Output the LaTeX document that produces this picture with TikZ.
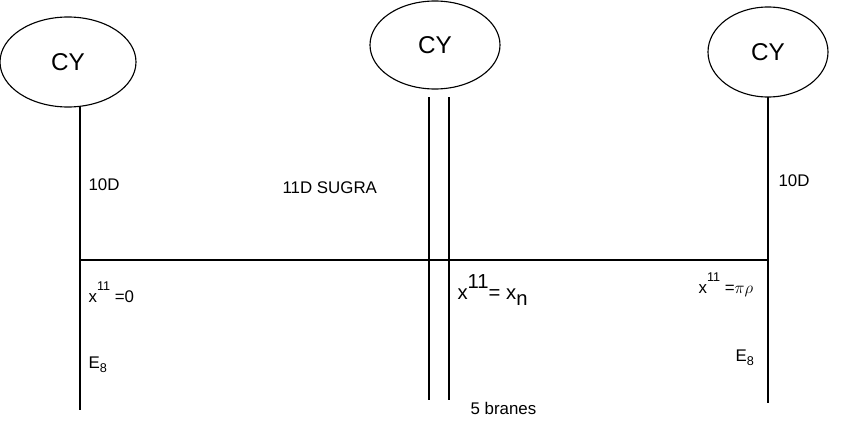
\documentclass[tikz,border=0pt]{standalone}
\usepackage{fontspec}
\setmainfont{Liberation Sans}
\usetikzlibrary{shapes.geometric}
\begin{document}
\begin{tikzpicture}[x=0.025cm, y=-0.025cm, line width=0.8pt]
        \useasboundingbox (0,0) rectangle (844,421);
        \tikzset{cy/.style={draw, ellipse, font=\LARGE}, lbl/.style={font=\large, anchor=west, inner sep=0pt}}
        % Calabi-Yau blobs
        \node[cy, minimum width=136*0.025cm, minimum height=90*0.025cm] (CYL) at (68,62) {CY};
        \node[cy, minimum width=130*0.025cm, minimum height=88*0.025cm] (CYM) at (435,45) {CY};
        \node[cy, minimum width=120*0.025cm, minimum height=90*0.025cm] (CYR) at (768,52) {CY};
        % walls and branes
        \coordinate (LB) at (80,410);
        \coordinate (LT) at (80,107);
        \coordinate (M1T) at (429,97); \coordinate (M1B) at (429,400);
        \coordinate (M2T) at (449,97); \coordinate (M2B) at (449,400);
        \coordinate (RT) at (768,97);  \coordinate (RB) at (768,403);
        \coordinate (HL) at (80,260);  \coordinate (HR) at (768,260);
        \draw (LT) -- (LB);
        \draw (M1T) -- (M1B);
        \draw (M2T) -- (M2B);
        \draw (RT) -- (RB);
        \draw (HL) -- (HR);
        % labels
        \node[lbl] (TENL) at (88,185) {10D};
        \node[lbl] (SUGRA) at (282,188) {11D SUGRA};
        \node[lbl] (TENR) at (778,181) {10D};
        \node[lbl] (XL) at (88,292) {x\raisebox{1.3ex}{\small 11} =0};
        \node[lbl, font=\Large] (XM) at (457,290) {x\raisebox{1ex}{11}= x\raisebox{-0.6ex}{n}};
        \node[lbl] (XR) at (698,285) {x\raisebox{1.3ex}{\small 11} =$\pi\rho$};
        \node[lbl] (EL) at (88,365) {E\raisebox{-0.4ex}{\small 8}};
        \node[lbl] (ER) at (735,358) {E\raisebox{-0.4ex}{\small 8}};
        \node[lbl] (BR) at (470,408) {5 branes};
\end{tikzpicture}
\end{document}
